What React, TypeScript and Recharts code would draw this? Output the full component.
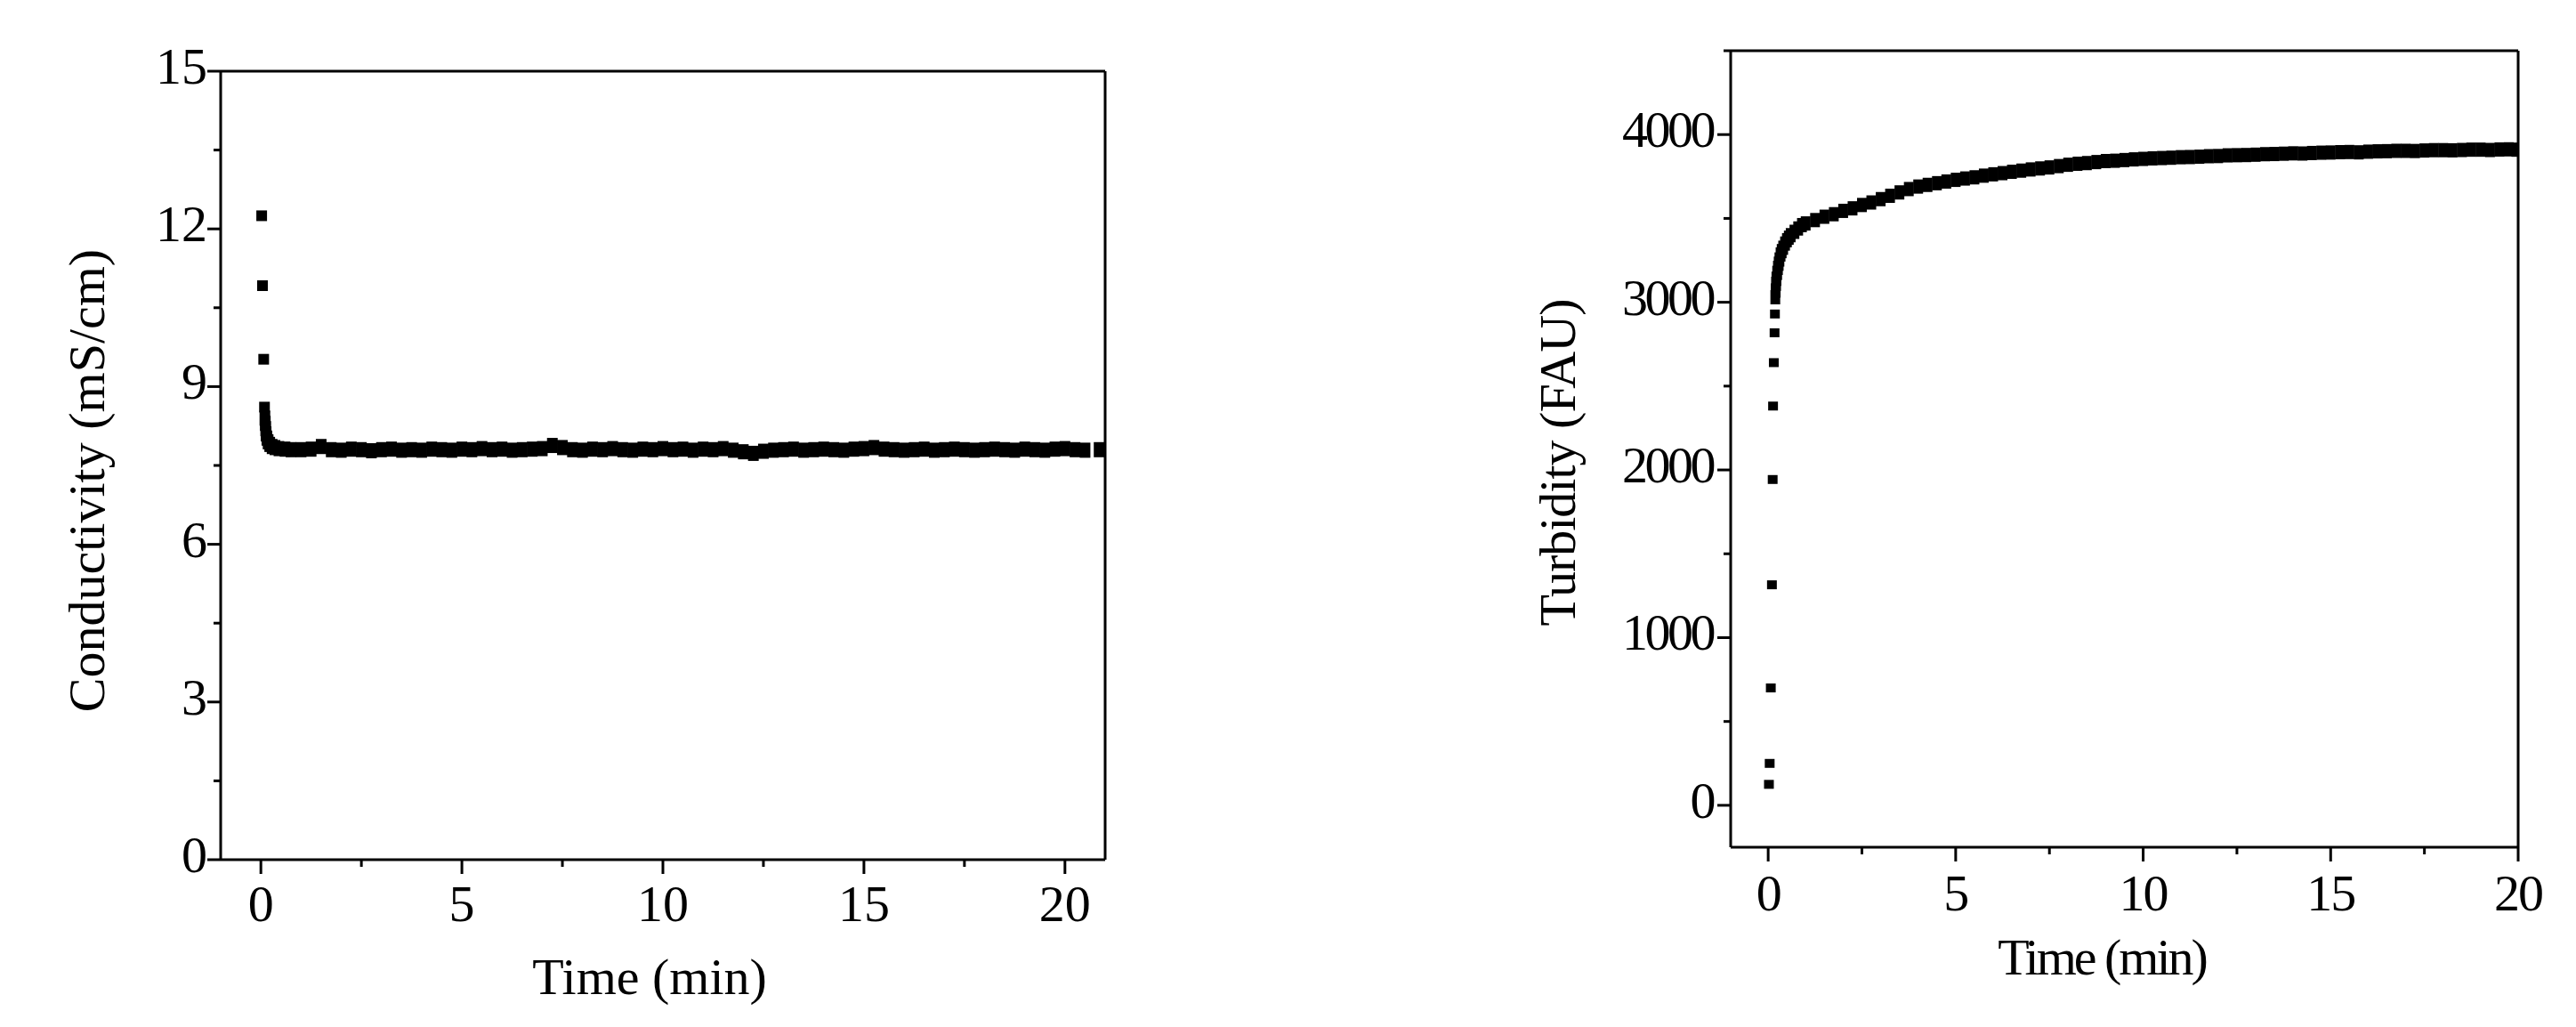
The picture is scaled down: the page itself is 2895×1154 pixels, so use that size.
import React from 'react';
import { ScatterChart, Scatter, XAxis, YAxis, ReferenceLine, Label } from 'recharts';

// conductivity run (mS/cm vs min): first readings, then the settled band
const condEarlyTime = [0.02, 0.04, 0.07, 0.09];
const condEarlyValue = [12.25, 10.92, 9.52, 8.61];
const condBandTime = [
  0.1, 0.11, 0.12, 0.13, 0.15, 0.18, 0.22, 0.28, 0.35, 0.45, 0.6, 0.75,
  1, 1.25, 1.5, 1.75, 2, 2.25, 2.5, 2.75, 3, 3.25, 3.5, 3.75, 4, 4.25, 4.5, 4.75,
  5, 5.25, 5.5, 5.75, 6, 6.25, 6.5, 6.75, 7, 7.25, 7.5, 7.75, 8, 8.25, 8.5, 8.75,
  9, 9.25, 9.5, 9.75, 10, 10.25, 10.5, 10.75, 11, 11.25, 11.5, 11.75, 12, 12.25, 12.5, 12.75,
  13, 13.25, 13.5, 13.75, 14, 14.25, 14.5, 14.75, 15, 15.25, 15.5, 15.75, 16, 16.25, 16.5, 16.75,
  17, 17.25, 17.5, 17.75, 18, 18.25, 18.5, 18.75, 19, 19.25, 19.5, 19.75, 20, 20.25, 20.5, 20.85,
];
const condBandValue = [
  8.4, 8.3, 8.2, 8.1, 8.02, 7.95, 7.9, 7.86, 7.84, 7.82, 7.81, 7.8,
  7.8, 7.81, 7.86, 7.8, 7.79, 7.81, 7.8, 7.78, 7.8, 7.81, 7.79, 7.8, 7.79, 7.81, 7.8, 7.79,
  7.81, 7.8, 7.82, 7.8, 7.81, 7.79, 7.8, 7.81, 7.82, 7.88, 7.84, 7.8, 7.79, 7.81, 7.8, 7.82,
  7.8, 7.79, 7.81, 7.8, 7.82, 7.8, 7.81, 7.79, 7.81, 7.8, 7.82, 7.79, 7.76, 7.73, 7.77, 7.79,
  7.8, 7.81, 7.79, 7.8, 7.81, 7.8, 7.79, 7.81, 7.82, 7.84, 7.81, 7.8, 7.79, 7.8, 7.81, 7.79,
  7.8, 7.81, 7.8, 7.79, 7.8, 7.81, 7.8, 7.79, 7.81, 7.8, 7.79, 7.81, 7.82, 7.8, 7.79, 7.8,
];

// turbidity run (FAU vs min): first readings, then the rising band
const turbEarlyTime = [0.02, 0.04, 0.07, 0.1, 0.12, 0.13, 0.15, 0.17, 0.18];
const turbEarlyValue = [125, 250, 700, 1315, 1943, 2381, 2640, 2818, 2930];
const turbBandTime = [
  0.19, 0.2, 0.21, 0.22, 0.24, 0.26, 0.28, 0.3, 0.33, 0.36, 0.4, 0.45, 0.5, 0.55, 0.6, 0.7, 0.8, 0.9, 1,
  1.25, 1.5, 1.75, 2, 2.25, 2.5, 2.75, 3, 3.25, 3.5, 3.75, 4, 4.25, 4.5, 4.75,
  5, 5.25, 5.5, 5.75, 6, 6.25, 6.5, 6.75, 7, 7.25, 7.5, 7.75, 8, 8.25, 8.5, 8.75,
  9, 9.25, 9.5, 9.75, 10, 10.25, 10.5, 10.75, 11, 11.25, 11.5, 11.75, 12, 12.25, 12.5, 12.75,
  13, 13.25, 13.5, 13.75, 14, 14.25, 14.5, 14.75, 15, 15.25, 15.5, 15.75, 16, 16.25, 16.5, 16.75,
  17, 17.25, 17.5, 17.75, 18, 18.25, 18.5, 18.75, 19, 19.25, 19.5, 19.75, 19.95,
];
const turbBandValue = [
  3030, 3070, 3110, 3140, 3175, 3205, 3230, 3255, 3285, 3305, 3325, 3350, 3370, 3385, 3400, 3420, 3440, 3460, 3470,
  3490, 3510, 3525, 3545, 3560, 3580, 3595, 3615, 3635, 3655, 3675, 3690, 3700, 3710, 3720,
  3730, 3738, 3745, 3755, 3763, 3770, 3778, 3785, 3792, 3798, 3804, 3812, 3820, 3826, 3830, 3836,
  3842, 3844, 3848, 3852, 3855, 3858, 3860, 3862, 3865, 3866, 3868, 3871, 3872, 3876, 3877, 3878,
  3880, 3883, 3884, 3886, 3888, 3887, 3890, 3892, 3893, 3895, 3896, 3894, 3898, 3900, 3901, 3903,
  3903, 3902, 3905, 3907, 3907, 3906, 3908, 3910, 3910, 3908, 3911, 3912, 3910,
];

const condXTicks = [0, 2.5, 5, 7.5, 10, 12.5, 15, 17.5, 20];
const condYTicks = [0, 1.5, 3, 4.5, 6, 7.5, 9, 10.5, 12, 13.5, 15];
const turbXTicks = [0, 2.5, 5, 7.5, 10, 12.5, 15, 17.5, 20];
const turbYTicks = [0, 500, 1000, 1500, 2000, 2500, 3000, 3500, 4000, 4500];

const pair = (ts: number[], vs: number[]) => ts.map((t, i) => ({ t, v: vs[i] }));
const condEarly = pair(condEarlyTime, condEarlyValue);
const condBand = pair(condBandTime, condBandValue);
const turbEarly = pair(turbEarlyTime, turbEarlyValue);
const turbBand = pair(turbBandTime, turbBandValue);

const FONT = '"Liberation Serif", "Times New Roman", serif';
const INK = '#000';

const xTick = (majorEvery: number, labelY: number, spacing: number) => (props: any) => {
  const { x, y, payload } = props;
  const major = payload.value % majorEvery === 0;
  return (
    <g>
      <line x1={x} y1={y} x2={x} y2={y + (major ? 16 : 8)} stroke={INK} strokeWidth={3} />
      {major && (
        <text x={x} y={y + labelY} textAnchor="middle" fontSize={58} fontFamily={FONT} letterSpacing={spacing} fill={INK}>
          {payload.value}
        </text>
      )}
    </g>
  );
};

const yTick = (majorEvery: number, gap: number, spacing: number) => (props: any) => {
  const { x, y, payload } = props;
  const major = payload.value % majorEvery === 0;
  return (
    <g>
      <line x1={x} y1={y} x2={x - (major ? 15 : 8)} y2={y} stroke={INK} strokeWidth={3} />
      {major && (
        <text x={x - 15 - gap} y={y + 14} textAnchor="end" fontSize={58} fontFamily={FONT} letterSpacing={spacing} fill={INK}>
          {payload.value}
        </text>
      )}
    </g>
  );
};

const square = (w: number, h: number) => (props: any) => (
  <rect x={props.cx - w / 2} y={props.cy - h / 2} width={w} height={h} fill={INK} />
);

const xTitle = (cx: number, baseline: number, spacing: number) => () => (
  <text x={cx} y={baseline} textAnchor="middle" fontSize={58} fontFamily={FONT} letterSpacing={spacing} fill={INK}>
    Time (min)
  </text>
);

const yTitle = (text: string, bx: number, cy: number, spacing: number) => () => (
  <text
    x={bx}
    y={cy}
    transform={`rotate(-90, ${bx}, ${cy})`}
    textAnchor="middle"
    fontSize={58}
    fontFamily={FONT}
    letterSpacing={spacing}
    fill={INK}
  >
    {text}
  </text>
);

const App: React.FC = () => {
  return (
    <div style={{ position: 'absolute', left: 0, top: 0, width: 2895, height: 1154, background: '#fff' }}>
      <div style={{ position: 'absolute', left: 0, top: 0 }}>
        <ScatterChart width={1300} height={1154} margin={{ top: 80, right: 58, bottom: 0, left: 0 }}>
          <XAxis
            type="number"
            dataKey="t"
            domain={[-1, 21]}
            ticks={condXTicks}
            interval={0}
            allowDataOverflow
            height={188}
            tickSize={0}
            tickMargin={0}
            tickLine={false}
            axisLine={{ stroke: INK, strokeWidth: 3 }}
            tick={xTick(5, 69, 0)}
          >
            <Label content={xTitle(730, 1117, 0)} />
          </XAxis>
          <YAxis
            type="number"
            dataKey="v"
            domain={[0, 15]}
            ticks={condYTicks}
            interval={0}
            allowDataOverflow
            width={248}
            tickSize={0}
            tickMargin={0}
            tickLine={false}
            axisLine={{ stroke: INK, strokeWidth: 3 }}
            tick={yTick(3, 0, 0)}
          >
            <Label content={yTitle('Conductivity (mS/cm)', 117, 540, 0)} />
          </YAxis>
          <ReferenceLine y={15} stroke={INK} strokeWidth={3} />
          <ReferenceLine x={21} stroke={INK} strokeWidth={3} />
          <Scatter data={condEarly} fill={INK} shape={square(12, 12)} isAnimationActive={false} />
          <Scatter data={condBand} fill={INK} shape={square(12, 17)} isAnimationActive={false} />
        </ScatterChart>
      </div>
      <div style={{ position: 'absolute', left: 1650, top: 0 }}>
        <ScatterChart width={1245} height={1154} margin={{ top: 57, right: 65, bottom: 0, left: 0 }}>
          <XAxis
            type="number"
            dataKey="t"
            domain={[-1, 20]}
            ticks={turbXTicks}
            interval={0}
            allowDataOverflow
            height={202}
            tickSize={0}
            tickMargin={0}
            tickLine={false}
            axisLine={{ stroke: INK, strokeWidth: 3 }}
            tick={xTick(5, 71, -2)}
          >
            <Label content={xTitle(712, 1095, -3)} />
          </XAxis>
          <YAxis
            type="number"
            dataKey="v"
            domain={[-250, 4500]}
            ticks={turbYTicks}
            interval={0}
            allowDataOverflow
            width={295}
            tickSize={0}
            tickMargin={0}
            tickLine={false}
            axisLine={{ stroke: INK, strokeWidth: 3 }}
            tick={yTick(1000, 5, -3.5)}
          >
            <Label content={yTitle('Turbidity (FAU)', 120, 520, -1)} />
          </YAxis>
          <ReferenceLine y={4500} stroke={INK} strokeWidth={3} />
          <ReferenceLine x={20} stroke={INK} strokeWidth={3} />
          <Scatter data={turbEarly} fill={INK} shape={square(11, 10)} isAnimationActive={false} />
          <Scatter data={turbBand} fill={INK} shape={square(11, 16)} isAnimationActive={false} />
        </ScatterChart>
      </div>
    </div>
  );
};

export default App;
